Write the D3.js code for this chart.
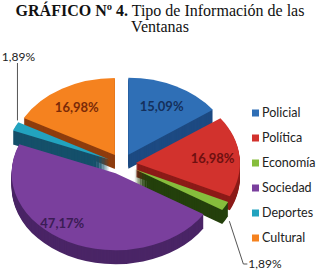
<!DOCTYPE html>
<html>
<head>
<meta charset="utf-8">
<script src="https://cdn.jsdelivr.net/npm/d3@7"></script>
<style>
  body { margin: 0; background: #fff; }
  svg { display: block; }
</style>
</head>
<body>
<div id="chart"></div>
<script>
// data
const categories = ["Policial", "Política", "Economía", "Sociedad", "Deportes", "Cultural"];
const values = [15.09, 16.98, 1.89, 47.17, 1.89, 16.98];
const valueLabels = ["15,09%", "16,98%", "1,89%", "47,17%", "1,89%", "16,98%"];

// styles
const topColors = ["#2f6fb6", "#d2322d", "#86bd3c", "#7a3f9d", "#22a3bf", "#f5821f"];
const sideColors = ["#1d4a82", "#8c1b18", "#24400c", "#4a2566", "#15506a", "#8e3d0e"];
const textColors = ["#14305c", "#6e1010", null, "#3b1c55", null, "#7a2a08"];

const W = 320, H = 279;
const cx = 122, cy = 164, rx = 104, ry = 77, depth = 14, explode = 14;
const k = ry / rx;

const svg = d3.select("#chart").append("svg")
    .attr("width", W).attr("height", H);
svg.append("rect").attr("width", W).attr("height", H).attr("fill", "#fff");

// title
const title = svg.append("text")
    .attr("x", 160).attr("y", 16)
    .attr("text-anchor", "middle")
    .style("font-family", "'Liberation Serif', 'Times New Roman', serif")
    .style("font-size", "16px")
    .attr("fill", "#111");
title.append("tspan").style("font-weight", "bold").text("GRÁFICO Nº 4.");
title.append("tspan").text(" Tipo de Información de las");
svg.append("text")
    .attr("x", 160).attr("y", 32)
    .attr("text-anchor", "middle")
    .style("font-family", "'Liberation Serif', 'Times New Roman', serif")
    .style("font-size", "16px")
    .attr("fill", "#111")
    .text("Ventanas");

const pie = d3.pie().sort(null).value(d => d)(values);
const arc = d3.arc().innerRadius(0).outerRadius(rx);

// vertex of each exploded slice
pie.forEach((d, i) => {
    d.index = i;
    d.mid = (d.startAngle + d.endAngle) / 2;
    d.vx = cx + explode * Math.sin(d.mid);
    d.vy = cy - explode * k * Math.cos(d.mid);
});

// back to front
const order = pie.slice().sort((a, b) => -Math.cos(a.mid) - (-Math.cos(b.mid)));

const pieG = svg.append("g");
order.forEach(d => {
    const g = pieG.append("g");
    // extruded side
    g.selectAll(".side")
        .data(d3.range(depth, 0, -1))
        .join("path")
        .attr("transform", t => `translate(${d.vx},${d.vy + t}) scale(1,${k})`)
        .attr("d", arc(d))
        .attr("fill", sideColors[d.index]);
    // top face
    g.append("path")
        .attr("transform", `translate(${d.vx},${d.vy}) scale(1,${k})`)
        .attr("d", arc(d))
        .attr("fill", topColors[d.index]);
});

// inside labels (radius fraction and angle shift in degrees)
const labelRadius = [0.7, 0.74, 0, 0.83, 0, 0.72];
const labelShift = [0, 0, 0, 11, 0, 0];
pie.forEach((d, i) => {
    if (!textColors[i]) return;
    const f = labelRadius[i];
    const a = d.mid + labelShift[i] * Math.PI / 180;
    svg.append("text")
        .attr("x", d.vx + f * rx * Math.sin(a))
        .attr("y", d.vy - f * ry * Math.cos(a))
        .attr("dy", "0.35em")
        .attr("text-anchor", "middle")
        .style("font-family", "Lato, 'Open Sans', sans-serif")
        .style("font-weight", "bold")
        .style("font-size", "13px")
        .attr("fill", textColors[i])
        .text(valueLabels[i]);
});

// outside labels with leader lines (Economía, Deportes)
const labelFont = "Lato, 'Open Sans', sans-serif";
function edgePoint(d) {
    return [d.vx + rx * Math.sin(d.mid), d.vy - ry * Math.cos(d.mid)];
}
// Deportes: up to the top-left
{
    const d = pie[4];
    const p = edgePoint(d);
    svg.append("path")
        .attr("d", d3.line()([[p[0] + 2, p[1] - 6], [p[0] + 2, 63]]))
        .attr("stroke", "#555").attr("stroke-width", 1).attr("fill", "none");
    svg.append("text")
        .attr("x", p[0] + 3).attr("y", 57).attr("dy", "0.35em")
        .attr("text-anchor", "middle")
        .style("font-family", labelFont).style("font-size", "12px")
        .attr("fill", "#222")
        .text(valueLabels[4]);
}
// Economía: down to the bottom-right
{
    const d = pie[2];
    const p = edgePoint(d);
    svg.append("path")
        .attr("d", d3.line()([[p[0] + 4, p[1] + depth + 1], [p[0] + 18, 264], [p[0] + 22, 264]]))
        .attr("stroke", "#555").attr("stroke-width", 1).attr("fill", "none");
    svg.append("text")
        .attr("x", p[0] + 23).attr("y", 264).attr("dy", "0.35em")
        .style("font-family", labelFont).style("font-size", "12px")
        .attr("fill", "#222")
        .text(valueLabels[2]);
}

// legend
const legend = svg.append("g").attr("transform", "translate(252,113)");
const ly = d3.scalePoint().domain(categories).range([0, 125]);
categories.forEach((c, i) => {
    const g = legend.append("g").attr("transform", `translate(0,${ly(c)})`);
    g.append("rect").attr("x", 0).attr("y", -3.5).attr("width", 7).attr("height", 7)
        .attr("fill", topColors[i]);
    g.append("text").attr("x", 10).attr("dy", "0.35em")
        .style("font-family", labelFont).style("font-size", "12.5px")
        .attr("fill", "#222")
        .text(c);
});
</script>
</body>
</html>
